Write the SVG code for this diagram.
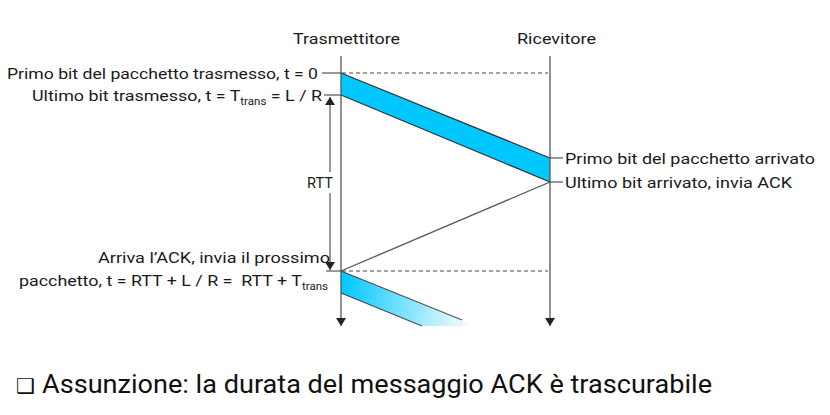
<svg xmlns="http://www.w3.org/2000/svg" width="830" height="415" viewBox="0 0 830 415">
<style>
  .t { font-family: Roboto, "Liberation Sans", sans-serif; font-size: 15.5px; fill: #1a1a1a; }
  .sub { font-size: 10px; }
  .life { stroke: #555; stroke-width: 1.3; fill: none; }
  .dash { stroke: #444; stroke-width: 1; stroke-dasharray: 4 3; fill: none; }
  .tick { stroke: #333; stroke-width: 1; fill: none; }
  .edge { stroke: #333; stroke-width: 1.2; fill: none; }
</style>
<defs>
  <marker id="ah" viewBox="0 0 8 10" refX="8" refY="5" markerWidth="8" markerHeight="10" markerUnits="userSpaceOnUse" orient="auto">
    <path d="M0,0 L8,5 L0,10 z" fill="#222"/>
  </marker>
  <linearGradient id="fade" gradientUnits="userSpaceOnUse" x1="341" y1="290" x2="475" y2="310">
    <stop offset="0" stop-color="#00C8FF"/>
    <stop offset="1" stop-color="#00C8FF" stop-opacity="0"/>
  </linearGradient>
</defs>
<rect width="830" height="415" fill="#fff"/>

<g id="header-trasmettitore">
  <text class="t" x="293" y="44" textLength="107" lengthAdjust="spacingAndGlyphs">Trasmettitore</text>
</g>
<g id="header-ricevitore">
  <text class="t" x="517" y="44" textLength="79" lengthAdjust="spacingAndGlyphs">Ricevitore</text>
</g>

<g id="packet1">
  <polygon points="341,73 550,158 550,182 341,95" fill="#00C8FF"/>
  <line class="edge" x1="341" y1="73" x2="550" y2="158"/>
  <line class="edge" x1="341" y1="95" x2="550" y2="182"/>
</g>

<g id="packet2">
  <polygon points="341,271 475,326 422,326 341,293" fill="url(#fade)"/>
  <line class="edge" x1="341" y1="271" x2="462" y2="320" stroke-opacity="0.85"/>
  <line class="edge" x1="341" y1="293" x2="422" y2="326" stroke-opacity="0.85"/>
</g>

<g id="connectors">
  <line class="life" x1="341" y1="56" x2="341" y2="326" marker-end="url(#ah)"/>
  <line class="life" x1="550" y1="56" x2="550" y2="326" marker-end="url(#ah)"/>
  <line class="dash" x1="342" y1="73" x2="548" y2="73"/>
  <line class="dash" x1="342" y1="271" x2="548" y2="271"/>
  <line class="life" x1="550" y1="182" x2="341" y2="271"/>
  <line class="tick" x1="322" y1="73" x2="341" y2="73"/>
  <line class="tick" x1="324" y1="95" x2="341" y2="95"/>
  <line class="tick" x1="550" y1="158" x2="563" y2="158"/>
  <line class="tick" x1="550" y1="182" x2="563" y2="182"/>
  <line class="tick" x1="326" y1="271" x2="341" y2="271"/>
  <line class="tick" x1="330" y1="172" x2="330" y2="97" marker-end="url(#ah)"/>
  <line class="tick" x1="330" y1="193" x2="330" y2="270" marker-end="url(#ah)"/>
</g>

<g id="label-t0">
  <text class="t" x="7" y="79" textLength="311" lengthAdjust="spacingAndGlyphs">Primo bit del pacchetto trasmesso, t = 0</text>
</g>
<g id="label-ttrans">
  <text class="t" x="32" y="101" textLength="290" lengthAdjust="spacingAndGlyphs">Ultimo bit trasmesso, t = T<tspan class="sub" dy="4">trans</tspan><tspan dy="-4"> = L / R</tspan></text>
</g>
<g id="label-primo-arrivato">
  <text class="t" x="565" y="164" textLength="250" lengthAdjust="spacingAndGlyphs">Primo bit del pacchetto arrivato</text>
</g>
<g id="label-ultimo-arrivato">
  <text class="t" x="565" y="188" textLength="227" lengthAdjust="spacingAndGlyphs">Ultimo bit arrivato, invia ACK</text>
</g>
<g id="label-rtt">
  <text class="t" x="307" y="188" textLength="26" lengthAdjust="spacingAndGlyphs">RTT</text>
</g>
<g id="label-ack">
  <text class="t" x="98" y="263" textLength="232" lengthAdjust="spacingAndGlyphs">Arriva l’ACK, invia il prossimo</text>
  <text class="t" x="19" y="286" textLength="309" lengthAdjust="spacingAndGlyphs">pacchetto, t = RTT + L / R = &#160;RTT + T<tspan class="sub" dy="4">trans</tspan></text>
</g>

<g id="note">
  <text x="16" y="393" font-family="'DejaVu Sans', sans-serif" font-size="21" fill="#111">❑</text>
  <text x="42" y="393" font-family="Roboto, 'Liberation Sans', sans-serif" font-size="25" fill="#111" textLength="670" lengthAdjust="spacingAndGlyphs">Assunzione: la durata del messaggio ACK è trascurabile</text>
</g>
</svg>
